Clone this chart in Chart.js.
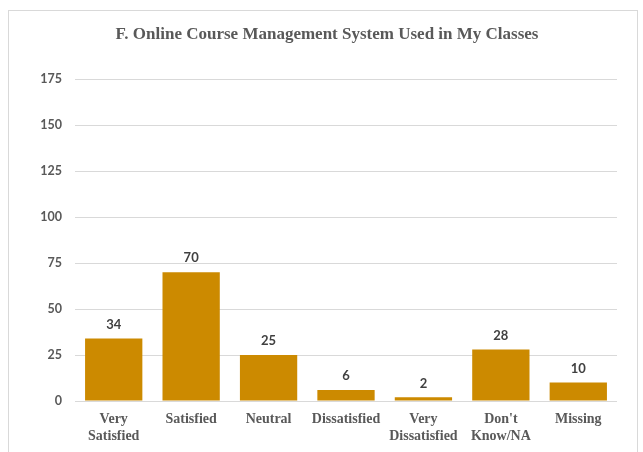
<!DOCTYPE html>
<html>
<head>
<meta charset="utf-8">
<script src="https://cdn.jsdelivr.net/npm/chart.js@4.4.1/dist/chart.umd.min.js"></script>
<style>
  html, body { margin: 0; padding: 0; background: #fff; }
  #wrap { position: absolute; left: 0; top: 0; width: 643px; height: 452px; }
</style>
</head>
<body>
<div id="wrap"><canvas id="chart" width="643" height="452"></canvas></div>
<script>
// categories (multi-line labels as in the source)
const categories = [
    ['Very', 'Satisfied'],
    'Satisfied',
    'Neutral',
    'Dissatisfied',
    ['Very', 'Dissatisfied'],
    ["Don't", 'Know/NA'],
    'Missing'
];
const counts = [34, 70, 25, 6, 2, 28, 10];
const yTicks = [0, 25, 50, 75, 100, 125, 150, 175];

const barColor = 'rgb(204, 138, 0)';
const gridColor = '#d9d9d9';
const textGray = '#595959';

// outer frame of the chart object
const framePlugin = {
    id: 'frame',
    beforeDraw(chart) {
        const ctx = chart.ctx;
        ctx.save();
        ctx.strokeStyle = '#d9d9d9';
        ctx.lineWidth = 1;
        ctx.strokeRect(8.5, 10.5, 629, 470);
        ctx.restore();
    }
};

// value labels above each bar
const valueLabels = {
    id: 'valueLabels',
    afterDatasetsDraw(chart) {
        const ctx = chart.ctx;
        ctx.save();
        ctx.font = 'bold 13px Lato';
        ctx.fillStyle = '#404040';
        ctx.textAlign = 'center';
        ctx.textBaseline = 'middle';
        chart.getDatasetMeta(0).data.forEach((bar, i) => {
            ctx.fillText(String(counts[i]), bar.x, bar.y - 14);
        });
        ctx.restore();
    }
};

new Chart(document.getElementById('chart'), {
    type: 'bar',
    data: {
        labels: categories,
        datasets: [{
            data: counts,
            backgroundColor: barColor,
            borderWidth: 0,
            barPercentage: 0.74,
            categoryPercentage: 1
        }]
    },
    options: {
        responsive: false,
        animation: false,
        layout: { padding: { left: 37, right: 26, top: 0, bottom: 0 } },
        plugins: {
            legend: { display: false },
            tooltip: { enabled: false },
            title: {
                display: true,
                text: 'F. Online Course Management System Used in My Classes',
                color: textGray,
                font: { family: 'Liberation Serif', size: 17, weight: 'bold', lineHeight: 1.2 },
                padding: { top: 24, bottom: 34.6 }
            }
        },
        scales: {
            x: {
                grid: { display: false, drawTicks: false },
                border: { display: false },
                ticks: {
                    color: textGray,
                    font: { family: 'Liberation Serif', size: 14, weight: 'bold', lineHeight: 1.2 },
                    padding: 10,
                    maxRotation: 0,
                    autoSkip: false
                },
                afterFit(scale) { scale.height = 51; }
            },
            y: {
                min: 0,
                max: 175,
                afterBuildTicks(scale) {
                    scale.ticks = yTicks.map(v => ({ value: v }));
                },
                grid: { color: gridColor, lineWidth: 1, drawTicks: false },
                border: { display: false },
                ticks: {
                    color: textGray,
                    font: { family: 'Lato', size: 12.5, weight: 'bold' },
                    padding: 13
                },
                afterFit(scale) { scale.width = 38; }
            }
        }
    },
    plugins: [framePlugin, valueLabels]
});
</script>
</body>
</html>
